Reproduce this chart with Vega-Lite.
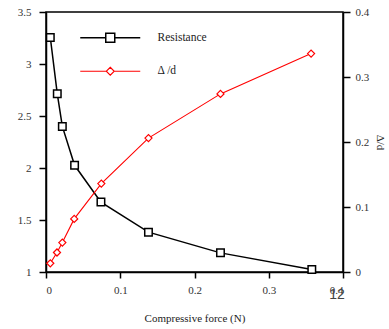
{
  "$schema": "https://vega.github.io/schema/vega-lite/v6.json",
  "width": 297,
  "height": 260,
  "autosize": "none",
  "padding": {"left": 46, "top": 12, "right": 46, "bottom": 57},
  "background": "white",
  "config": {
    "view": {"stroke": "black", "strokeWidth": 1.5},
    "font": "Liberation Serif",
    "axis": {
      "grid": false,
      "domainColor": "black",
      "domainWidth": 1.5,
      "tickColor": "black",
      "tickWidth": 1.5,
      "labelFont": "Liberation Serif",
      "labelFontSize": 11,
      "labelColor": "#333",
      "titleFont": "Liberation Serif",
      "titleFontWeight": "normal",
      "titleFontSize": 11,
      "titleColor": "#222"
    },
    "legend": {
      "orient": "none",
      "legendX": 58.5,
      "legendY": 20,
      "labelFont": "Liberation Serif",
      "labelFontSize": 11.5,
      "labelColor": "#222",
      "symbolSize": 3600,
      "symbolStrokeWidth": 1.5,
      "labelOffset": 41.5,
      "rowPadding": 18.5
    }
  },
  "datasets": {
    "main": [
      {"series": "Resistance", "force": 0.0058, "value": 3.255},
      {"series": "Resistance", "force": 0.0152, "value": 2.713},
      {"series": "Resistance", "force": 0.022, "value": 2.40},
      {"series": "Resistance", "force": 0.0385, "value": 2.026},
      {"series": "Resistance", "force": 0.074, "value": 1.672},
      {"series": "Resistance", "force": 0.138, "value": 1.383},
      {"series": "Resistance", "force": 0.235, "value": 1.184},
      {"series": "Resistance", "force": 0.358, "value": 1.024},
      {"series": "Δ /d", "force": 0.0058, "value": 0.0134},
      {"series": "Δ /d", "force": 0.0148, "value": 0.030},
      {"series": "Δ /d", "force": 0.022, "value": 0.0453},
      {"series": "Δ /d", "force": 0.038, "value": 0.0817},
      {"series": "Δ /d", "force": 0.0745, "value": 0.136},
      {"series": "Δ /d", "force": 0.138, "value": 0.206},
      {"series": "Δ /d", "force": 0.235, "value": 0.274},
      {"series": "Δ /d", "force": 0.357, "value": 0.336}
    ]
  },
  "data": {"name": "main"},
  "encoding": {
    "x": {
      "field": "force",
      "type": "quantitative",
      "scale": {"domain": [0, 0.4]},
      "axis": {
        "values": [0, 0.1, 0.2, 0.3, 0.4],
        "format": "~g",
        "title": "Compressive force (N)",
        "tickSize": 6,
        "labelPadding": 6,
        "titlePadding": 17
      }
    }
  },
  "layer": [
    {
      "transform": [{"filter": "datum.series === 'Resistance'"}],
      "encoding": {
        "y": {
          "field": "value",
          "type": "quantitative",
          "scale": {"domain": [1, 3.5]},
          "axis": {
            "orient": "left",
            "title": null,
            "values": [1, 1.5, 2, 2.5, 3, 3.5],
            "format": "~g",
            "tickSize": 7,
            "labelPadding": 8
          }
        }
      },
      "layer": [
        {
          "mark": {"type": "line", "strokeWidth": 1.5},
          "encoding": {
            "color": {
              "field": "series",
              "type": "nominal",
              "scale": {"domain": ["Resistance", "Δ /d"], "range": ["black", "red"]},
              "legend": {
                "title": null,
                "encode": {
                  "symbols": {
                    "update": {
                      "shape": {"signal": "datum.value === 'Resistance' ? 'M-1,0H-0.15M0.15,0H1M-0.15,-0.15H0.15V0.15H-0.15Z' : 'M-1,0H-0.133M0.133,0H1M0,-0.133L0.133,0L0,0.133L-0.133,0Z'"},
                      "fill": {"value": "white"},
                      "strokeWidth": {"signal": "datum.value === 'Resistance' ? 1.5 : 1.1"}
                    }
                  }
                }
              }
            }
          }
        },
        {
          "mark": {"type": "point", "shape": "square", "size": 56, "filled": true, "fill": "white", "stroke": "black", "strokeWidth": 1.5, "opacity": 1}
        },
        {
          "data": {"values": [{"series": "Resistance", "force": 0.392, "value": 0.777, "label": "12"}]},
          "mark": {"type": "text", "font": "Liberation Sans", "fontSize": 14, "color": "#444"},
          "encoding": {"text": {"field": "label"}}
        }
      ]
    },
    {
      "transform": [{"filter": "datum.series === 'Δ /d'"}],
      "encoding": {
        "y": {
          "field": "value",
          "type": "quantitative",
          "scale": {"domain": [0, 0.4]},
          "axis": {
            "orient": "right",
            "title": "Δ/d",
            "values": [0, 0.1, 0.2, 0.3, 0.4],
            "format": "~g",
            "tickSize": 7,
            "labelPadding": 5,
            "titlePadding": 6
          }
        }
      },
      "layer": [
        {
          "mark": {"type": "line", "strokeWidth": 1.1},
          "encoding": {"color": {"field": "series", "type": "nominal"}}
        },
        {
          "mark": {"type": "point", "shape": "diamond", "size": 50, "filled": true, "fill": "white", "stroke": "red", "strokeWidth": 1.2, "opacity": 1}
        }
      ]
    }
  ],
  "resolve": {"scale": {"y": "independent"}}
}
